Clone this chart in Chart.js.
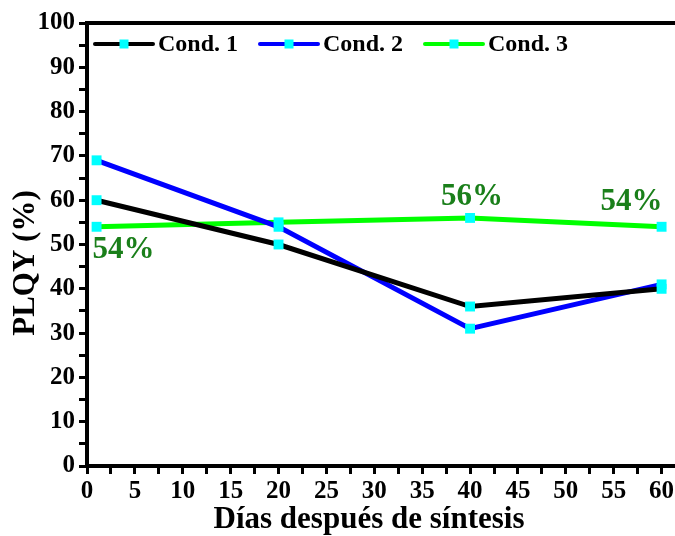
<!DOCTYPE html>
<html>
<head>
<meta charset="utf-8">
<script src="https://cdn.jsdelivr.net/npm/chart.js@4.4.1/dist/chart.umd.min.js"></script>
<style>
  html, body { margin: 0; padding: 0; background: #fff; }
  #wrap { width: 675px; height: 536px; }
</style>
</head>
<body>
<div id="wrap"><canvas id="plqyChart" width="675" height="536"></canvas></div>
<script>
// Data
const days = [1, 20, 40, 60];
const cond1 = [60, 50, 36, 40];
const cond2 = [69, 54, 31, 41];
const cond3 = [54, 55, 56, 54];
const seriesLabels = ['Cond. 1', 'Cond. 2', 'Cond. 3'];
const xTickValues = [0, 5, 10, 15, 20, 25, 30, 35, 40, 45, 50, 55, 60];
const yTickValues = [0, 10, 20, 30, 40, 50, 60, 70, 80, 90, 100];
// labels written next to Cond. 3 points: [pointIndex, text]
const cond3Notes = [[0, '54%'], [2, '56%'], [3, '54%']];

const SERIF = '"Liberation Serif", "Times New Roman", serif';
const noteGreen = '#1a7f1a';

// major + minor ticks (minor half-way between majors)
function withMinors(vals) {
    const out = [];
    for (let i = 0; i < vals.length; i++) {
        out.push({ value: vals[i], major: true });
        if (i < vals.length - 1) out.push({ value: (vals[i] + vals[i + 1]) / 2, major: false });
    }
    return out;
}

// frame top line, legend, notes, axis titles
const extrasPlugin = {
    id: 'extras',
    afterDraw(chart) {
        const { ctx, chartArea: a, scales } = chart;
        ctx.save();

        // top frame
        ctx.strokeStyle = '#000';
        ctx.lineWidth = 4;
        ctx.beginPath();
        ctx.moveTo(a.left - 2, a.top);
        ctx.lineTo(a.right, a.top);
        ctx.stroke();

        // legend inside plot
        const legendX = [95, 260, 425];
        const legendY = 44;
        chart.data.datasets.forEach((ds, i) => {
            const x0 = legendX[i];
            ctx.strokeStyle = ds.borderColor;
            ctx.lineWidth = 4;
            ctx.lineCap = 'round';
            ctx.beginPath();
            ctx.moveTo(x0, legendY);
            ctx.lineTo(x0 + 58, legendY);
            ctx.stroke();
            ctx.fillStyle = '#00ffff';
            ctx.fillRect(x0 + 29 - 4.5, legendY - 4.5, 9, 9);
            ctx.fillStyle = '#000';
            ctx.font = 'bold 24px ' + SERIF;
            ctx.textAlign = 'left';
            ctx.textBaseline = 'middle';
            ctx.fillText(ds.label, x0 + 63, legendY + 1);
        });

        // percentage notes for Cond. 3
        ctx.fillStyle = noteGreen;
        ctx.font = 'bold 31px ' + SERIF;
        ctx.textBaseline = 'middle';
        cond3Notes.forEach(([idx, txt]) => {
            const px = scales.x.getPixelForValue(days[idx]);
            const py = scales.y.getPixelForValue(cond3[idx]);
            if (idx === 0) {
                ctx.textAlign = 'left';
                ctx.fillText(txt, px - 4, py + 23);
            } else if (idx === days.length - 1) {
                ctx.textAlign = 'right';
                ctx.fillText(txt, px + 1, py - 25);
            } else {
                ctx.textAlign = 'center';
                ctx.fillText(txt, px + 2, py - 21);
            }
        });

        // axis titles
        ctx.fillStyle = '#000';
        ctx.font = 'bold 31px ' + SERIF;
        ctx.textAlign = 'center';
        ctx.textBaseline = 'middle';
        ctx.fillText('Días después de síntesis', 369, 520);
        ctx.save();
        ctx.translate(26, 263);
        ctx.rotate(-Math.PI / 2);
        ctx.fillText('PLQY (%)', 0, 0);
        ctx.restore();

        ctx.restore();
    }
};

const mkSet = (label, data, color) => ({
    label: label,
    data: data.map((v, i) => ({ x: days[i], y: v })),
    borderColor: color,
    backgroundColor: color,
    borderWidth: 5,
    pointStyle: 'rect',
    pointRadius: 7,
    pointHoverRadius: 7,
    pointBackgroundColor: '#00ffff',
    pointBorderColor: '#00ffff',
    pointBorderWidth: 0,
    tension: 0,
    fill: false,
    clip: false
});

const ctx = document.getElementById('plqyChart').getContext('2d');
new Chart(ctx, {
    type: 'line',
    data: {
        datasets: [
            mkSet(seriesLabels[0], cond1, '#000000'),
            mkSet(seriesLabels[1], cond2, '#0000ff'),
            mkSet(seriesLabels[2], cond3, '#00ff00')
        ]
    },
    options: {
        responsive: false,
        animation: false,
        layout: { autoPadding: false, padding: { top: 23, right: 0, left: 0, bottom: 0 } },
        plugins: {
            legend: { display: false },
            tooltip: { enabled: false }
        },
        scales: {
            x: {
                type: 'linear',
                min: 0,
                max: 61.4,
                afterBuildTicks: (scale) => { scale.ticks = withMinors(xTickValues); },
                afterFit: (scale) => {
                    scale.height = 70;
                    scale.paddingRight = 0;
                    scale.paddingLeft = 0;
                },
                grid: {
                    drawOnChartArea: false,
                    drawTicks: true,
                    tickLength: 8,
                    tickWidth: 3,
                    tickColor: '#000'
                },
                border: { display: true, color: '#000', width: 4 },
                ticks: {
                    autoSkip: false,
                    maxRotation: 0,
                    padding: 3,
                    color: '#000',
                    font: { family: SERIF, size: 25, weight: 'bold' },
                    callback: (v) => (xTickValues.includes(v) ? String(v) : '')
                }
            },
            y: {
                type: 'linear',
                min: 0,
                max: 100,
                afterBuildTicks: (scale) => { scale.ticks = withMinors(yTickValues); },
                afterFit: (scale) => {
                    scale.width = 87;
                    scale.paddingTop = 0;
                    scale.paddingBottom = 0;
                },
                grid: {
                    drawOnChartArea: false,
                    drawTicks: true,
                    tickLength: 8,
                    tickWidth: 3,
                    tickColor: '#000'
                },
                border: { display: true, color: '#000', width: 4 },
                ticks: {
                    autoSkip: false,
                    padding: 4,
                    color: '#000',
                    font: { family: SERIF, size: 25, weight: 'bold' },
                    callback: (v) => (yTickValues.includes(v) ? String(v) : '')
                }
            }
        }
    },
    plugins: [extrasPlugin]
});
</script>
</body>
</html>
